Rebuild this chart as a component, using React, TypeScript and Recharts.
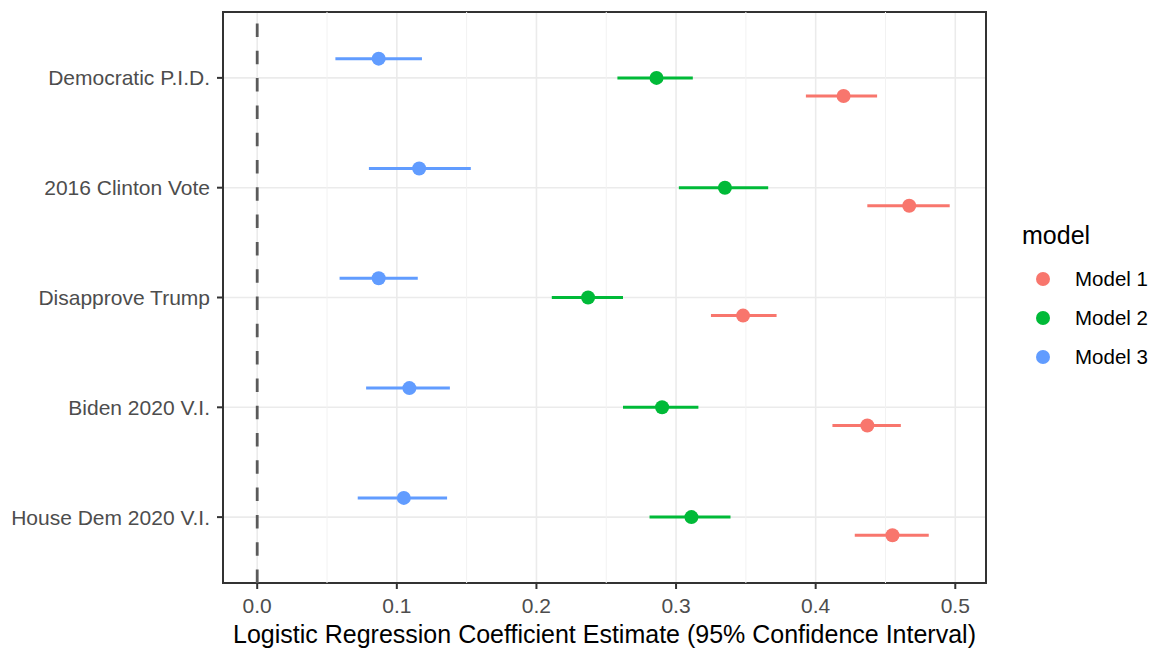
import React from 'react';
import {
  ScatterChart,
  Scatter,
  XAxis,
  YAxis,
  CartesianGrid,
  ReferenceLine,
  ReferenceArea,
  ErrorBar,
} from 'recharts';

// top to bottom, as they appear on the y axis
const categories = [
  'Democratic P.I.D.',
  '2016 Clinton Vote',
  'Disapprove Trump',
  'Biden 2020 V.I.',
  'House Dem 2020 V.I.',
];

const model1Est = [0.420, 0.467, 0.348, 0.437, 0.455];
const model1Lo = [0.393, 0.437, 0.325, 0.412, 0.428];
const model1Hi = [0.444, 0.496, 0.372, 0.461, 0.481];

const model2Est = [0.286, 0.335, 0.237, 0.290, 0.311];
const model2Lo = [0.258, 0.302, 0.211, 0.262, 0.281];
const model2Hi = [0.312, 0.366, 0.262, 0.316, 0.339];

const model3Est = [0.087, 0.116, 0.087, 0.109, 0.105];
const model3Lo = [0.056, 0.080, 0.059, 0.078, 0.072];
const model3Hi = [0.118, 0.153, 0.115, 0.138, 0.136];

const modelNames = ['Model 1', 'Model 2', 'Model 3'];
const xTicks = [0, 0.1, 0.2, 0.3, 0.4, 0.5];
const xMinorTicks = [0.05, 0.15, 0.25, 0.35, 0.45];
const yTicks = [1, 2, 3, 4, 5];

const COLORS = ['#F8766D', '#00BA38', '#619CFF'];
const DODGE = [-0.165, 0, 0.175];
const FONT = '"Liberation Sans", Arial, sans-serif';

const buildSeries = (est: number[], lo: number[], hi: number[], dodge: number) =>
  categories.map((name, i) => ({
    name,
    est: est[i],
    pos: categories.length - i + dodge,
    err: [est[i] - lo[i], hi[i] - est[i]],
  }));

const series = [
  buildSeries(model1Est, model1Lo, model1Hi, DODGE[0]),
  buildSeries(model2Est, model2Lo, model2Hi, DODGE[1]),
  buildSeries(model3Est, model3Lo, model3Hi, DODGE[2]),
];

const dot = (color: string) => (props: any) => (
  <circle cx={props.cx} cy={props.cy} r={7} fill={color} />
);

export default function App() {
  return (
    <div style={{ position: 'absolute', left: 0, top: 0, width: 1154, height: 651, background: '#fff', fontFamily: FONT }}>
      <ScatterChart width={1154} height={651} margin={{ top: 12, right: 168, bottom: 0, left: 0 }}>
        <CartesianGrid stroke="#EBEBEB" strokeWidth={1.6} />
        {xMinorTicks.map((v) => (
          <ReferenceLine key={v} x={v} stroke="#F2F2F2" strokeWidth={1} />
        ))}
        <XAxis
          type="number"
          dataKey="est"
          domain={[-0.0245, 0.522]}
          ticks={xTicks}
          tickFormatter={(v) => v.toFixed(1)}
          allowDataOverflow
          height={68}
          axisLine={false}
          tickSize={6}
          tickMargin={9}
          tickLine={{ stroke: '#333', strokeWidth: 2 }}
          tick={{ fill: '#4D4D4D', fontSize: 21, fontFamily: FONT }}
          label={{
            value: 'Logistic Regression Coefficient Estimate (95% Confidence Interval)',
            position: 'insideBottom',
            offset: 8,
            fill: '#000',
            fontSize: 25,
            fontFamily: FONT,
          }}
        />
        <YAxis
          type="number"
          dataKey="pos"
          domain={[0.4, 5.6]}
          ticks={yTicks}
          tickFormatter={(v) => categories[categories.length - v]}
          allowDataOverflow
          width={223}
          axisLine={false}
          tickSize={6}
          tickMargin={7}
          tickLine={{ stroke: '#333', strokeWidth: 2 }}
          tick={{ fill: '#4D4D4D', fontSize: 21, fontFamily: FONT }}
        />
        <ReferenceLine x={0} stroke="#5A5A5A" strokeWidth={2.8} strokeDasharray="13.5 13.8" />
        {series.map((data, i) => (
          <Scatter
            key={modelNames[i]}
            name={modelNames[i]}
            data={data}
            fill={COLORS[i]}
            shape={dot(COLORS[i])}
            isAnimationActive={false}
          >
            <ErrorBar dataKey="err" direction="x" width={0} stroke={COLORS[i]} strokeWidth={3} />
          </Scatter>
        ))}
        <ReferenceArea
          x1={-0.0245}
          x2={0.522}
          y1={0.4}
          y2={5.6}
          fill="none"
          stroke="#333"
          strokeWidth={2}
          ifOverflow="visible"
        />
      </ScatterChart>
      <div style={{ position: 'absolute', left: 1022, top: 220 }}>
        <div style={{ fontSize: 25, color: '#000', lineHeight: '30px', marginBottom: 9 }}>model</div>
        {modelNames.map((name, i) => (
          <div key={name} style={{ display: 'flex', alignItems: 'center', height: 39 }}>
            <span
              style={{
                display: 'inline-block',
                width: 14,
                height: 14,
                borderRadius: '50%',
                background: COLORS[i],
                marginLeft: 14,
                marginRight: 25,
              }}
            />
            <span style={{ fontSize: 20.5, color: '#000' }}>{name}</span>
          </div>
        ))}
      </div>
    </div>
  );
}
